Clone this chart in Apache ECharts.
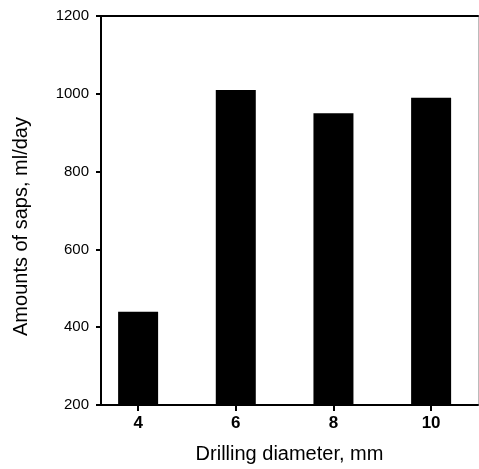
<!DOCTYPE html>
<html>
<head>
<meta charset="utf-8">
<script src="https://cdn.jsdelivr.net/npm/echarts@6/dist/echarts.min.js"></script>
<style>
  html, body { margin: 0; padding: 0; background: #fff; }
  #main { width: 479px; height: 469px; }
</style>
</head>
<body>
<div id="main"></div>
<script>
// drilling diameter (mm) and sap amount (ml/day)
const diameters = [4, 6, 8, 10];
const saps = [440, 1010, 950, 990];
const yTicks = [200, 400, 600, 800, 1000, 1200];

const font = '"Liberation Sans", Arial, sans-serif';
const chart = echarts.init(document.getElementById('main'));

const option = {
  animation: false,
  backgroundColor: '#fff',
  grid: { left: 101, top: 16, right: 1, bottom: 61 },
  xAxis: [
    {
      type: 'value',
      min: 3.24,
      max: 10.96,
      splitLine: { show: false },
      axisLine: { show: true, onZero: false, lineStyle: { color: '#000', width: 2 } },
      axisTick: { show: true, customValues: diameters, length: 6, lineStyle: { color: '#000', width: 2 } },
      axisLabel: { customValues: diameters, margin: 10, color: '#000', fontSize: 17, fontWeight: 'bold', fontFamily: font },
      name: 'Drilling diameter, mm',
      nameLocation: 'middle',
      nameGap: 39,
      nameTextStyle: { color: '#000', fontSize: 20, fontFamily: font }
    },
    {
      type: 'value',
      position: 'top',
      min: 3.24,
      max: 10.96,
      splitLine: { show: false },
      axisLine: { show: true, lineStyle: { color: '#000', width: 2 } },
      axisTick: { show: false },
      axisLabel: { show: false }
    }
  ],
  yAxis: [
    {
      type: 'value',
      min: yTicks[0],
      max: yTicks[yTicks.length - 1],
      interval: 200,
      splitLine: { show: false },
      axisLine: { show: true, lineStyle: { color: '#000', width: 2 } },
      axisTick: { show: true, length: 5, lineStyle: { color: '#000', width: 2 } },
      axisLabel: { margin: 12, color: '#000', fontSize: 15, fontFamily: font, formatter: v => String(v) },
      name: 'Amounts of saps, ml/day',
      nameLocation: 'middle',
      nameGap: 70,
      nameTextStyle: { color: '#000', fontSize: 20, fontFamily: font, padding: [0, 32, 0, 0] }
    },
    {
      type: 'value',
      position: 'right',
      min: yTicks[0],
      max: yTicks[yTicks.length - 1],
      splitLine: { show: false },
      axisLine: { show: true, lineStyle: { color: '#bbb', width: 1 } },
      axisTick: { show: false },
      axisLabel: { show: false }
    }
  ],
  series: [
    {
      type: 'bar',
      barWidth: 40,
      itemStyle: { color: '#000' },
      data: diameters.map((d, i) => [d, saps[i]])
    }
  ]
};

chart.setOption(option);
</script>
</body>
</html>
